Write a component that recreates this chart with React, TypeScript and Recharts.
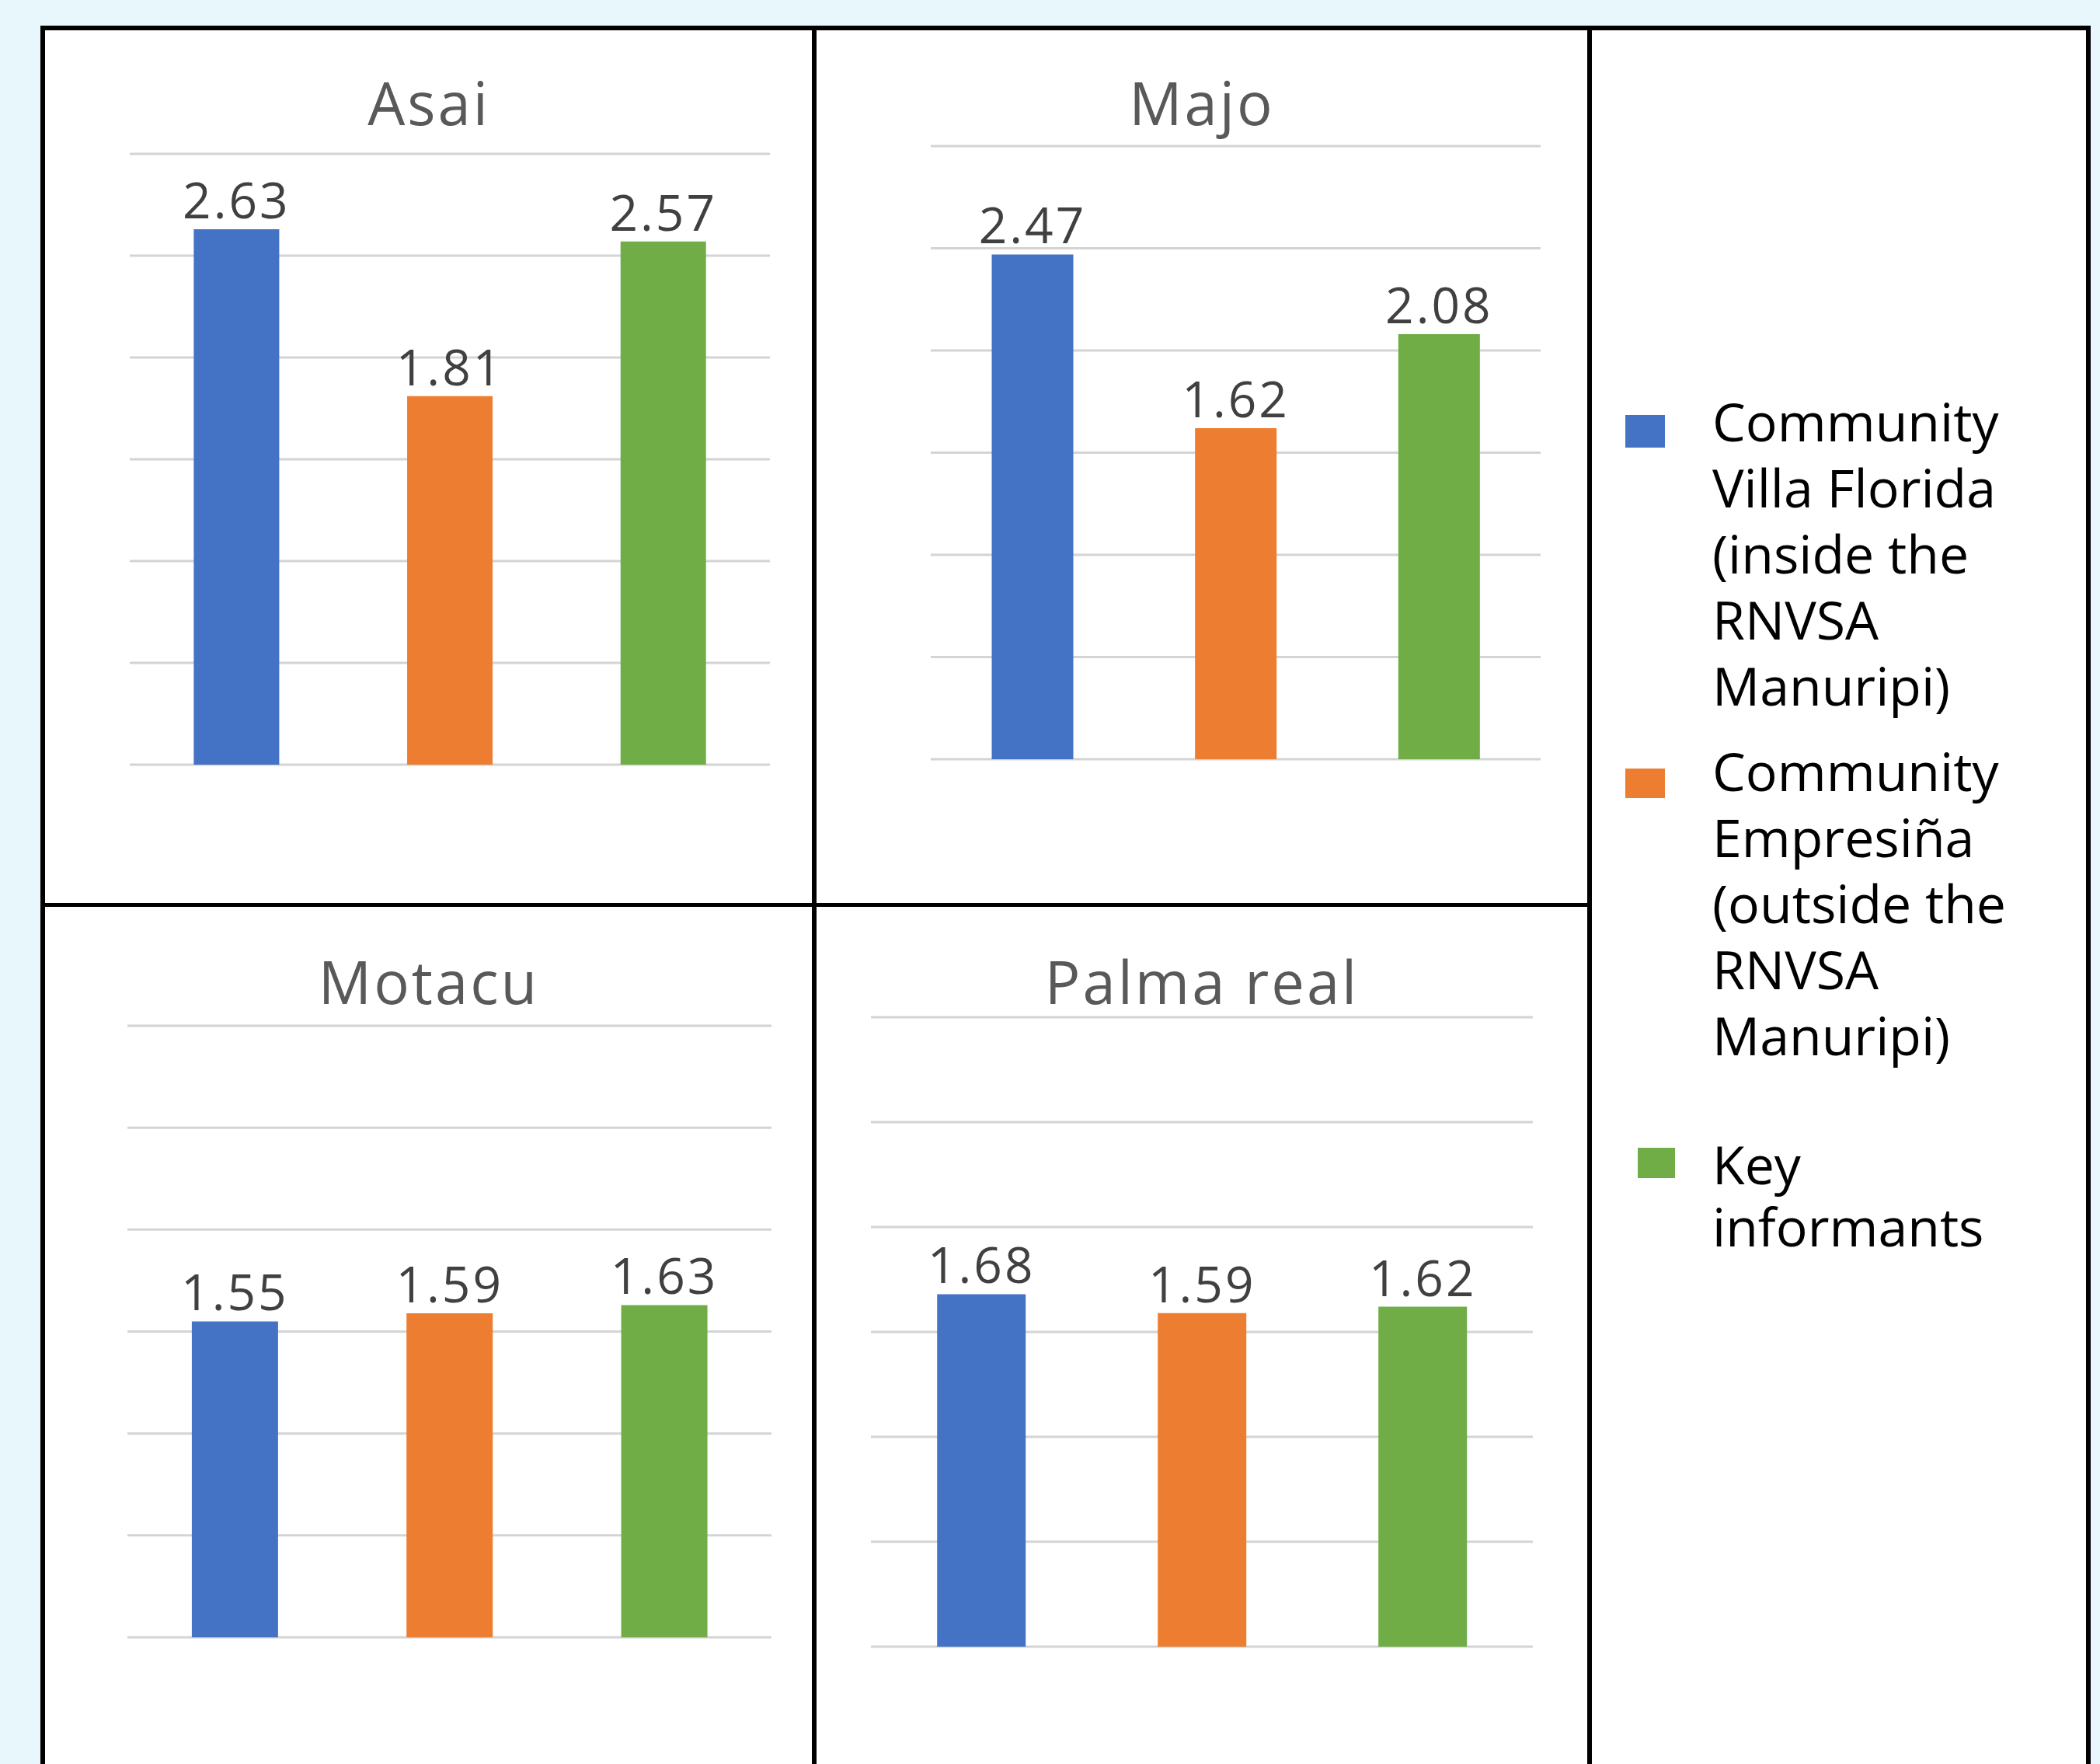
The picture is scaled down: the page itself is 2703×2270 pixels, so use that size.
import React from "react";
import { BarChart, Bar, XAxis, YAxis, CartesianGrid, Cell, LabelList } from "recharts";

// series (one bar per group in every panel)
const seriesNames = [
  "Community Villa Florida (inside the RNVSA Manuripi)",
  "Community Empresiña (outside the RNVSA Manuripi)",
  "Key informants",
];
const seriesColors = ["#4472C4", "#ED7D31", "#70AD47"];

const panelTitles = ["Asai", "Majo", "Motacu", "Palma real"];
const asaiValues = [2.63, 1.81, 2.57];
const majoValues = [2.47, 1.62, 2.08];
const motacuValues = [1.55, 1.59, 1.63];
const palmaRealValues = [1.68, 1.59, 1.62];
const yTicks = [0, 0.5, 1, 1.5, 2, 2.5, 3];

const panelValues = [asaiValues, majoValues, motacuValues, palmaRealValues];

// plot-area boxes and title positions, in page pixels
const panelLayout = [
  { left: 167, top: 198, width: 824, height: 786, titleX: 552, titleTop: 94 },
  { left: 1198, top: 188, width: 785, height: 789, titleX: 1547, titleTop: 94 },
  { left: 164, top: 1320, width: 829, height: 787, titleX: 552, titleTop: 1225 },
  { left: 1121, top: 1309, width: 852, height: 810, titleX: 1547, titleTop: 1225 },
];

const legendLayout = [
  { swatchX: 2092, swatchY: 534, swatchW: 51, swatchH: 42, textTop: 499, lineH: 85 },
  { swatchX: 2092, swatchY: 989, swatchW: 51, swatchH: 38, textTop: 949, lineH: 85 },
  { swatchX: 2108, swatchY: 1477, swatchW: 48, swatchH: 39, textTop: 1458, lineH: 80 },
];

const FONT = "'Open Sans', 'Noto Sans', sans-serif";
const PAD = 20;

function Panel({ idx }: { idx: number }) {
  const box = panelLayout[idx];
  const data = seriesNames.map((name, i) => ({ name, value: panelValues[idx][i] }));
  return (
    <>
      <div
        style={{
          position: "absolute",
          left: box.titleX - 400,
          width: 800,
          top: box.titleTop,
          textAlign: "center",
          fontSize: 76,
          lineHeight: "76px",
          letterSpacing: 3,
          color: "#595959",
          fontFamily: FONT,
        }}
      >
        {panelTitles[idx]}
      </div>
      <div style={{ position: "absolute", left: box.left, top: box.top - PAD }}>
        <BarChart
          width={box.width}
          height={box.height + PAD * 2}
          data={data}
          margin={{ top: PAD, right: 0, bottom: PAD, left: 0 }}
          barCategoryGap="30%"
        >
          <CartesianGrid
            vertical={false}
            horizontalValues={yTicks}
            stroke="#d4d4d4"
            strokeWidth={3}
          />
          <XAxis dataKey="name" hide />
          <YAxis domain={[0, 3]} ticks={yTicks} hide />
          <Bar dataKey="value" isAnimationActive={false}>
            {data.map((d, i) => (
              <Cell key={d.name} fill={seriesColors[i]} />
            ))}
            <LabelList
              dataKey="value"
              position="top"
              offset={14}
              fill="#404040"
              fontSize={64}
              letterSpacing={3}
              fontFamily={FONT}
              formatter={(v: any) => Number(v).toFixed(2)}
            />
          </Bar>
        </BarChart>
      </div>
    </>
  );
}

export default function App() {
  return (
    <div
      style={{
        position: "absolute",
        left: 0,
        top: 0,
        width: 2703,
        height: 2270,
        background: "#E8F7FC",
        overflow: "hidden",
        fontFamily: FONT,
      }}
    >
      {/* outer white frame */}
      <div
        style={{
          position: "absolute",
          left: 52,
          top: 33,
          width: 2627,
          height: 2400,
          background: "#fff",
          border: "6px solid #000",
        }}
      />
      {/* dividers */}
      <div style={{ position: "absolute", left: 1045, top: 33, width: 6, height: 2300, background: "#000" }} />
      <div style={{ position: "absolute", left: 2043, top: 33, width: 6, height: 2300, background: "#000" }} />
      <div style={{ position: "absolute", left: 58, top: 1162, width: 1985, height: 5, background: "#000" }} />

      {panelTitles.map((t, i) => (
        <Panel key={t} idx={i} />
      ))}

      {seriesNames.map((name, i) => {
        const l = legendLayout[i];
        return (
          <React.Fragment key={name}>
            <div
              style={{
                position: "absolute",
                left: l.swatchX,
                top: l.swatchY,
                width: l.swatchW,
                height: l.swatchH,
                background: seriesColors[i],
              }}
            />
            <div
              style={{
                position: "absolute",
                left: 2204,
                top: l.textTop,
                width: 450,
                fontSize: 68,
                lineHeight: `${l.lineH}px`,
                color: "#000",
                fontFamily: FONT,
              }}
            >
              {name}
            </div>
          </React.Fragment>
        );
      })}
    </div>
  );
}
